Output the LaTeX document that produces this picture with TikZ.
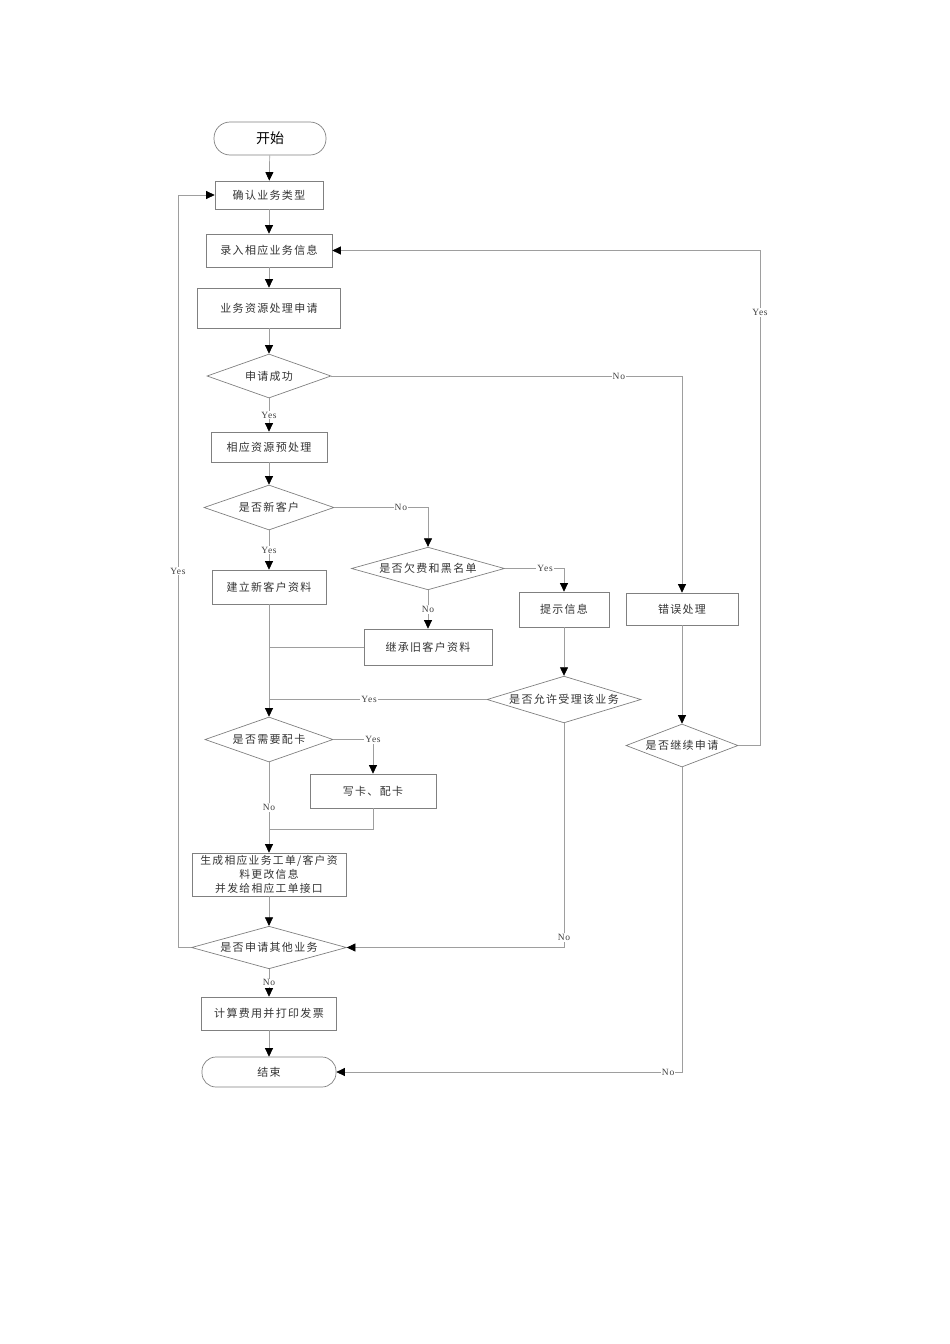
\documentclass[tikz,border=0pt]{standalone}
\usepackage{fontspec}
\setmainfont{Liberation Serif}
\newfontfamily\labf[LetterSpace=8]{Liberation Serif}
\newfontfamily\cjk[LetterSpace=12]{Noto Sans CJK SC}
\newfontfamily\cjkt{Noto Sans CJK SC}
\usetikzlibrary{arrows.meta,shapes.geometric,calc}
\begin{document}
\begin{tikzpicture}[x=1pt,y=-1pt,
  txt/.style={font=\cjk\fontsize{11}{14.5}\selectfont, text=black!80},
  box/.style={txt, draw=black!50, line width=0.7pt, rectangle, inner sep=0pt, align=center},
  dia/.style={txt, draw=black!50, line width=0.7pt, diamond, shape aspect=3, inner sep=0pt},
  term/.style={txt, draw=black!50, line width=0.7pt, rectangle, inner sep=0pt},
  ln/.style={draw=black!38, line width=0.7pt},
  arr/.style={ln, -{Triangle[length=8.5pt,width=8pt,color=black]}},
  lab/.style={fill=white, inner sep=1pt, font=\labf\fontsize{9.5}{11}\selectfont, text=black!75}
]
\useasboundingbox (0,0) rectangle (950,1344);

% nodes
\node[term, minimum width=112pt, minimum height=33pt, rounded corners=16pt,
      font=\cjkt\fontsize{14}{16}\selectfont, text=black] (start) at (270,138.5) {开始};
\node[box, minimum width=108pt, minimum height=28pt] (n2) at (269,195) {确认业务类型};
\node[box, minimum width=126pt, minimum height=33pt] (n3) at (269,250.5) {录入相应业务信息};
\node[box, minimum width=143pt, minimum height=40pt] (n4) at (269,308) {业务资源处理申请};
\node[dia, minimum width=124pt, minimum height=44pt] (d1) at (269,376) {申请成功};
\node[box, minimum width=116pt, minimum height=30pt] (n5) at (269,447) {相应资源预处理};
\node[dia, minimum width=130pt, minimum height=45pt] (d2) at (269,507.5) {是否新客户};
\node[box, minimum width=114pt, minimum height=34pt] (n6) at (269,587) {建立新客户资料};
\node[dia, minimum width=153pt, minimum height=39pt] (d3) at (428,568.5) {是否欠费和黑名单};
\node[box, minimum width=128pt, minimum height=36pt] (n7) at (428,647) {继承旧客户资料};
\node[box, minimum width=90pt, minimum height=35pt] (n8) at (564,609.5) {提示信息};
\node[dia, minimum width=154pt, minimum height=37pt] (d4) at (564,699.5) {是否允许受理该业务};
\node[dia, minimum width=128pt, minimum height=45pt] (d5) at (269,739.5) {是否需要配卡};
\node[box, minimum width=126pt, minimum height=34pt] (n9) at (373,791) {写卡、配卡};
\node[box, minimum width=154pt, minimum height=43pt, font=\cjk\fontsize{10.8}{14.2}\selectfont] (n10) at (269,874.5)
      {生成相应业务工单/客户资\\料更改信息\\并发给相应工单接口};
\node[dia, minimum width=155pt, minimum height=39pt] (d6) at (269,947.5) {是否申请其他业务};
\node[box, minimum width=135pt, minimum height=33pt] (n11) at (269,1013.5) {计算费用并打印发票};
\node[term, minimum width=134pt, minimum height=30pt, rounded corners=14pt] (end) at (269,1072) {结束};
\node[box, minimum width=112pt, minimum height=32pt] (err) at (682,609) {错误处理};
\node[dia, minimum width=112pt, minimum height=43pt] (d7) at (682,745.5) {是否继续申请};

\coordinate (lx) at (178,0);
\coordinate (rx) at (760,0);
\coordinate (j2) at (269,829);

% main column
\draw[arr] (start) -- (n2);
\draw[arr] (n2) -- (n3);
\draw[arr] (n3) -- (n4);
\draw[arr] (n4) -- (d1);
\draw[arr] (d1) -- node[lab]{Yes} (n5);
\draw[arr] (n5) -- (d2);
\draw[arr] (d2) -- node[lab]{Yes} (n6);
\draw[arr] (n6) -- (d5);
\draw[arr] (d5) -- node[lab]{No} (n10);
\draw[arr] (n10) -- (d6);
\draw[arr] (d6) -- node[lab]{No} (n11);
\draw[arr] (n11) -- (end);

% new customer branch
\draw[arr] (d2.east) -| node[lab, pos=0.355]{No} (d3.north);
\draw[arr] (d3.south) -- node[lab]{No} (n7.north);
\draw[arr] (d3.east) -| node[lab, pos=0.34]{Yes} (n8.north);
\draw[arr] (n8) -- (d4);
\draw[ln] (n7.west) -- (n6.south |- n7.west);
\draw[ln] (d4.west) -- node[lab, pos=0.54]{Yes} (n6.south |- d4.west);
\draw[arr] (d4.south) |- node[lab, pos=0.478]{No} (d6.east);

% card
\draw[arr] (d5.east) -| node[lab, pos=0.5]{Yes} (n9.north);
\draw[ln] (n9.south) |- (j2);

% loop back
\draw[arr] (d6.west) -- (lx |- d6.west) -- node[lab]{Yes} (lx |- n2.west) -- (n2.west);

% error branch
\draw[arr] (d1.east) -| node[lab, pos=0.41]{No} (err.north);
\draw[arr] (err) -- (d7);
\draw[arr] (d7.east) -- (rx |- d7.east) -- node[lab, pos=0.875]{Yes} (rx |- n3.east) -- (n3.east);
\draw[arr] (d7.south) |- node[lab, pos=0.52]{No} (end.east);
\end{tikzpicture}
\end{document}
